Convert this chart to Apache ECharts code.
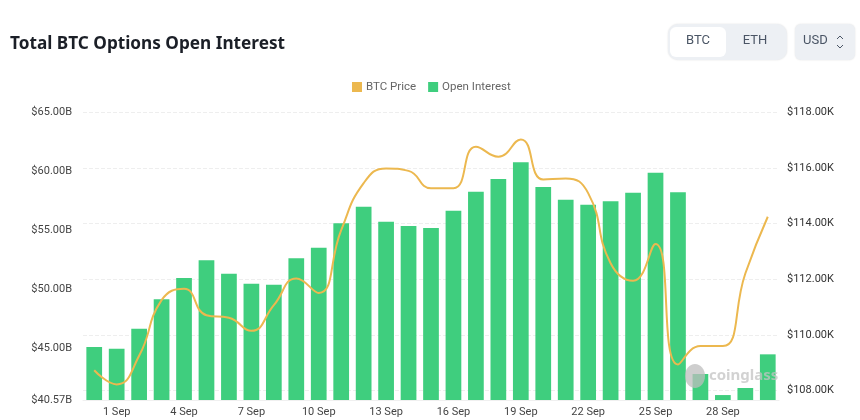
<!DOCTYPE html>
<html>
<head>
<meta charset="utf-8">
<title>Total BTC Options Open Interest</title>
<style>
    html, body { margin: 0; padding: 0; background: #fff; }
    #chart { width: 860px; height: 420px; }
</style>
<script src="https://cdn.jsdelivr.net/npm/echarts@6/dist/echarts.min.js"></script>
</head>
<body>
<div id="chart"></div>
<script>
var categories = ['31 Aug', '1 Sep', '2 Sep', '3 Sep', '4 Sep', '5 Sep', '6 Sep', '7 Sep', '8 Sep', '9 Sep', '10 Sep',
    '11 Sep', '12 Sep', '13 Sep', '14 Sep', '15 Sep', '16 Sep', '17 Sep', '18 Sep', '19 Sep', '20 Sep',
    '21 Sep', '22 Sep', '23 Sep', '24 Sep', '25 Sep', '26 Sep', '27 Sep', '28 Sep', '29 Sep', '30 Sep'];
// open interest, $B
var openInterest = [45.07, 44.93, 46.63, 49.13, 50.94, 52.44, 51.30, 50.45, 50.37, 52.61, 53.51,
    55.58, 56.99, 55.72, 55.35, 55.18, 56.65, 58.27, 59.35, 60.77, 58.67,
    57.59, 57.16, 57.45, 58.18, 59.88, 58.22, 42.78, 40.99, 41.59, 44.45];
// btc price, $K
var btcPrice = [108.73, 108.22, 109.25, 111.25, 111.66, 110.71, 110.62, 110.15, 111.07, 112.03, 111.51,
    113.77, 115.46, 115.99, 115.90, 115.28, 115.28, 116.77, 116.41, 117.03, 115.59,
    115.63, 115.10, 112.58, 111.95, 113.27, 108.94, 109.60, 109.60, 112.21, 114.25];
// tick labels of both value axes
var leftTicks = [40.57, 45, 50, 55, 60, 65];
var rightTicks = [108, 110, 112, 114, 116, 118];

var tickFont = 'Roboto, "Noto Sans", sans-serif';
var uiFont = '"Noto Sans", Roboto, sans-serif';

var chart = echarts.init(document.getElementById('chart'));
chart.setOption({
    animation: false,
    backgroundColor: '#fff',
    title: {
        text: 'Total BTC Options Open Interest',
        left: 5,
        top: 31,
        textStyle: { color: '#1b1f27', fontSize: 17.2, fontWeight: 'bold', fontFamily: uiFont }
    },
    legend: {
        data: ['BTC Price', 'Open Interest'],
        top: 76,
        left: 347,
        itemWidth: 10,
        itemHeight: 10,
        itemGap: 12,
        icon: 'rect',
        textStyle: { color: '#666', fontSize: 11.5, fontFamily: tickFont, padding: [0, 0, 0, -1] }
    },
    grid: { left: 83, right: 81, top: 112.5, bottom: 20 },
    xAxis: {
        type: 'category',
        data: categories,
        axisLine: { lineStyle: { color: '#f0f0f0' } },
        axisTick: { show: false },
        axisLabel: {
            color: '#444',
            fontSize: 11,
            fontFamily: tickFont,
            margin: 7,
            interval: function (i) { return i % 3 === 1; }
        }
    },
    yAxis: [{
        type: 'value',
        min: 40.57,
        max: 65,
        splitLine: { show: false },
        axisLine: { show: false },
        axisTick: { show: false, customValues: leftTicks },
        axisLabel: {
            color: '#444',
            fontSize: 11,
            fontFamily: tickFont,
            margin: 11,
            customValues: leftTicks,
            formatter: function (v) { return '$' + v.toFixed(2) + 'B'; }
        }
    }, {
        type: 'value',
        min: 107.66,
        max: 118,
        position: 'right',
        splitLine: { show: true, lineStyle: { color: '#eeeeee', type: 'dashed' } },
        axisLine: { show: false },
        axisTick: { show: false, customValues: rightTicks },
        axisLabel: {
            color: '#333',
            fontSize: 11,
            fontFamily: tickFont,
            margin: 8,
            customValues: rightTicks,
            formatter: function (v) { return '$' + v.toFixed(2) + 'K'; }
        }
    }],
    series: [{
        name: 'BTC Price',
        type: 'line',
        yAxisIndex: 1,
        data: btcPrice,
        smooth: 0.5,
        showSymbol: false,
        z: 5,
        itemStyle: { color: '#ecb84f' },
        lineStyle: { color: '#ecb84f', width: 2 }
    }, {
        name: 'Open Interest',
        type: 'bar',
        yAxisIndex: 0,
        data: openInterest,
        barWidth: '70%',
        itemStyle: { color: '#3fce7e' }
    }],
    graphic: [
        // BTC / ETH switch
        { type: 'rect', shape: { x: 668, y: 24, width: 119, height: 36, r: 10 }, style: { fill: '#edf0f4', shadowBlur: 2, shadowColor: 'rgba(0,0,0,0.12)' } },
        { type: 'rect', shape: { x: 670, y: 27, width: 56, height: 30, r: 6 }, style: { fill: '#fff' } },
        { type: 'text', x: 698, y: 41, style: { text: 'BTC', fill: '#4a5565', font: '13px ' + tickFont, align: 'center', verticalAlign: 'middle' } },
        { type: 'text', x: 755, y: 41, style: { text: 'ETH', fill: '#4a5565', font: '13px ' + tickFont, align: 'center', verticalAlign: 'middle' } },
        // currency select
        { type: 'rect', shape: { x: 795, y: 24, width: 60, height: 36, r: 6 }, style: { fill: '#edf0f4', shadowBlur: 2, shadowColor: 'rgba(0,0,0,0.12)' } },
        { type: 'text', x: 803, y: 41, style: { text: 'USD', fill: '#4a5565', font: '13px ' + tickFont, align: 'left', verticalAlign: 'middle' } },
        { type: 'polyline', shape: { points: [[837, 39], [840, 36], [843, 39]] }, style: { fill: null, stroke: '#4a5565', lineWidth: 1 } },
        { type: 'polyline', shape: { points: [[837, 45], [840, 48], [843, 45]] }, style: { fill: null, stroke: '#4a5565', lineWidth: 1 } },
        // watermark
        { type: 'ellipse', z: 10, shape: { cx: 695, cy: 376, rx: 10, ry: 12 }, style: { fill: 'rgba(190,190,190,0.75)' } },
        { type: 'text', z: 10, x: 709, y: 376, style: { text: 'coinglass', fill: 'rgba(195,195,195,0.75)', font: 'bold 15px ' + uiFont, align: 'left', verticalAlign: 'middle' } }
    ]
});
</script>
</body>
</html>
